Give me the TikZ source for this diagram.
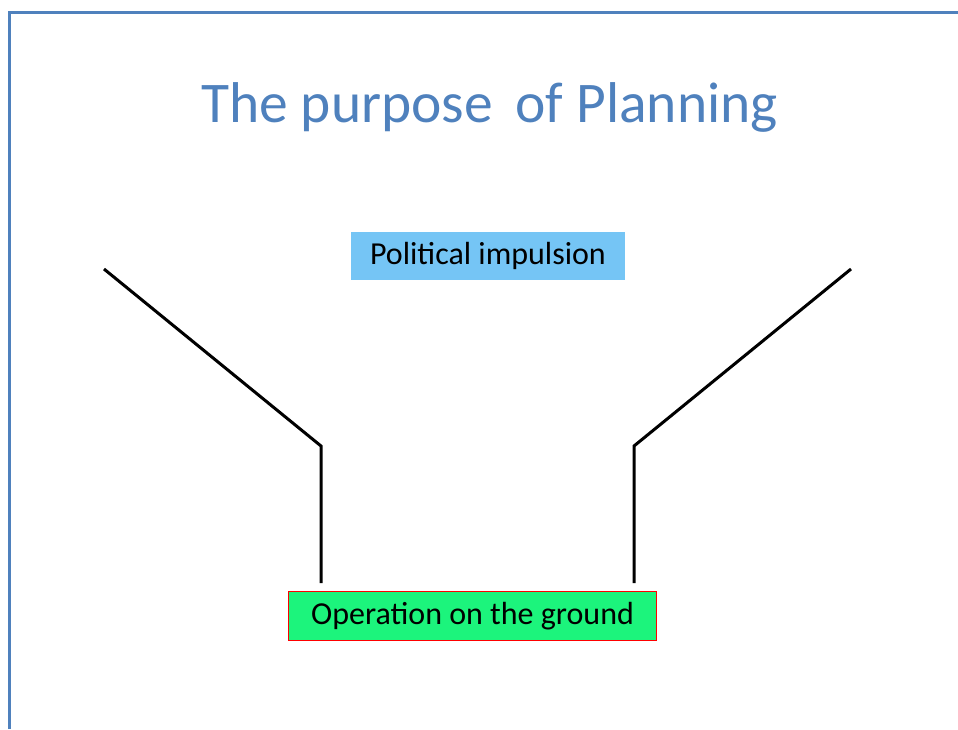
\documentclass[tikz,border=0pt]{standalone}
\usepackage{fontspec}
\setmainfont{Carlito}
\definecolor{frameblue}{HTML}{4F81BD}
\definecolor{skybox}{HTML}{75C5F5}
\definecolor{groundgreen}{HTML}{1CF47C}
\begin{document}
\begin{tikzpicture}[x=1pt,y=-1pt,
	every node/.style={inner sep=0pt},
	label box/.style={minimum height=48pt,font=\fontsize{32}{34}\selectfont},
	funnel/.style={line width=3pt,black}]
	\useasboundingbox (0,0) rectangle (958,729);
	% frame of the slide
	\draw[frameblue,line width=3.5pt] (9.5,729)--(9.5,12.5)--(960,12.5);
	\node[text=frameblue,font=\fontsize{57.5}{60}\selectfont,anchor=base] (title) at (489.5,122){The purpose\, of Planning};
	\node[label box,fill=skybox,minimum width=274pt] (impulse) at (488,256){Political impulsion};
	\node[label box,fill=groundgreen,draw=red,line width=1.5pt,minimum width=368pt,minimum height=49pt] (ground) at (472.5,616){Operation on the ground};
	% funnel sides
	\coordinate (lt) at (104,269);
	\coordinate (lk) at (321,446);
	\coordinate (lb) at (321,583);
	\coordinate (rt) at (851,269);
	\coordinate (rk) at (634,446);
	\coordinate (rb) at (634,583);
	\draw[funnel] (lt)--(lk)--(lb);
	\draw[funnel] (rt)--(rk)--(rb);
\end{tikzpicture}
\end{document}
